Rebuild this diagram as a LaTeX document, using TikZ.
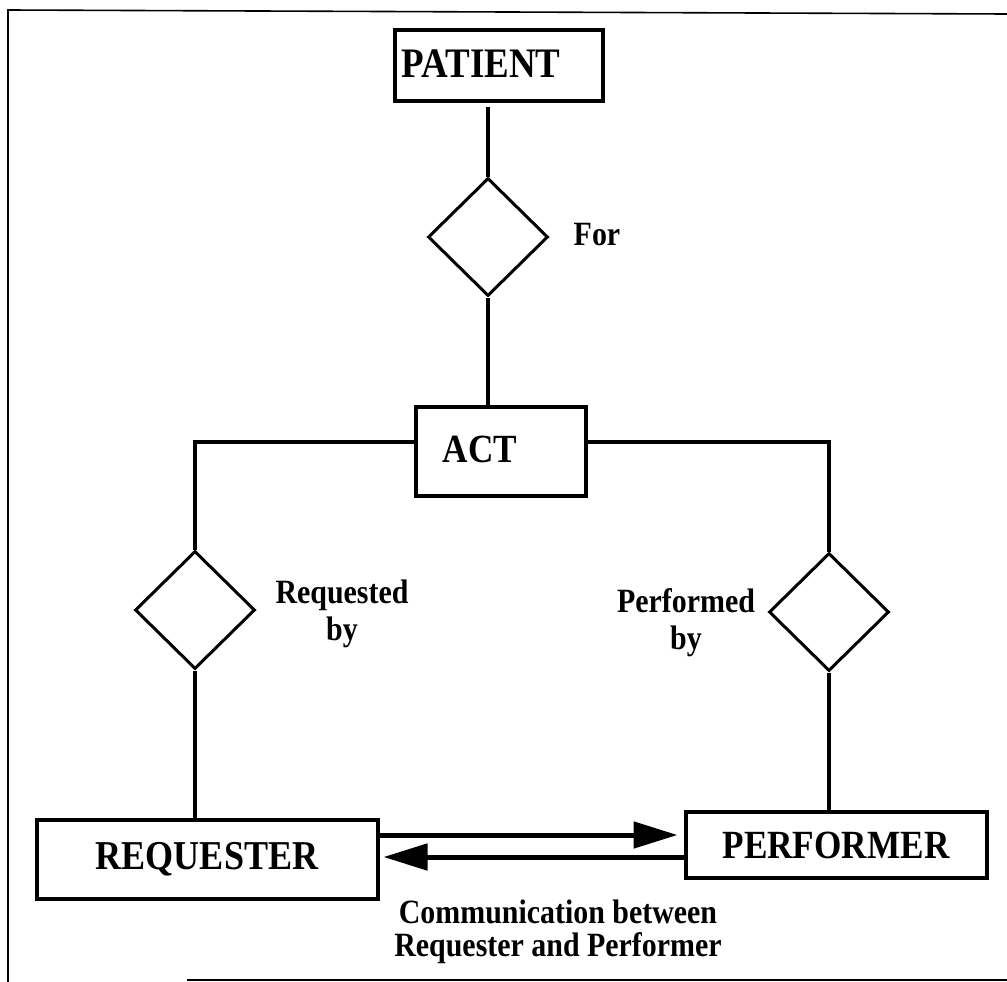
\documentclass[tikz,border=0pt]{standalone}
\usepackage{fontspec}
\setmainfont{Liberation Serif}
\usetikzlibrary{shapes.geometric,arrows.meta,calc}
\tikzset{
  entity/.style={draw, line width=4pt, inner sep=0pt, font=\fontsize{40}{44}\selectfont\bfseries},
  bigtext/.style={font=\fontsize{42}{46}\selectfont\bfseries},
  rel/.style={draw, diamond, line width=3pt, inner sep=0pt, minimum width=120pt, minimum height=118pt},
  conn/.style={line width=3.5pt},
  lbl/.style={font=\fontsize{34}{40}\selectfont\bfseries, align=center, inner sep=0pt},
  frame/.style={line width=1.6pt},
  bigarrow/.style={line width=5pt, -{Triangle[length=44pt,width=26pt]}}
}
\newcommand{\sq}[1]{\scalebox{0.88}[1]{#1}}
\begin{document}
\begin{tikzpicture}[x=1pt,y=-1pt]
\useasboundingbox (0,0) rectangle (1007,982);
% frame
\coordinate (f1) at (8,10);
\coordinate (f2) at (1007,14);
\coordinate (f3) at (8,982);
\coordinate (f4) at (187,980);
\coordinate (f5) at (1007,980);
\draw[frame] (f3) -- (f1) -- (f2);
\draw[frame] (f4) -- (f5);
% entities
\node[entity, bigtext, minimum width=208pt, minimum height=71pt] (patient) at (499,65.5) {\raisebox{4pt}{\sq{PATIENT}}\hspace*{36pt}};
\node[entity, minimum width=170pt, minimum height=89pt] (act) at (501,451) {\raisebox{4pt}{\sq{ACT}}\hspace*{42pt}};
\node[entity, font=\fontsize{41}{45}\selectfont\bfseries, minimum width=341pt, minimum height=79pt] (req) at (207,859) {\sq{REQUESTER}};
\node[entity, minimum width=301pt, minimum height=66pt] (perf) at (836,845) {\sq{PERFORMER}};
% relationships
\node[rel] (forD) at (488,237) {};
\node[rel] (reqD) at (195,610) {};
\node[rel] (perfD) at (829,612) {};
% labels
\node[lbl] (forL) at (597,235) {\sq{For}};
\node[lbl] (reqL) at (342,614) {\sq{Requested}\\[-3pt]\sq{by}};
\node[lbl] (perfL) at (686,623) {\sq{Performed}\\[-3pt]\sq{by}};
\node[lbl] (commL) at (558,932) {\sq{Communication between}\\[-7pt]\sq{Requester and Performer}};
% connectors
\draw[conn] (forD.north |- 0,107) coordinate (pbot) -- (forD.north);
\draw[conn] (forD.south) -- (forD.south |- act.north);
\coordinate (actL) at ($(act.west)+(0,-9)$);
\coordinate (actR) at ($(act.east)+(0,-9)$);
\draw[conn] (actL) -| (reqD.north);
\draw[conn] (actR) -| (perfD.north);
\draw[conn] (reqD.south) -- (reqD.south |- req.north);
\draw[conn] (perfD.south) -- (perfD.south |- perf.north);
% communication arrows
\draw[bigarrow] (req.east |- 0,835) -- ($(perf.west |- 0,835)+(-6,0)$);
\draw[bigarrow] (perf.west |- 0,857) -- ($(req.east |- 0,857)+(4,0)$);
\end{tikzpicture}
\end{document}
